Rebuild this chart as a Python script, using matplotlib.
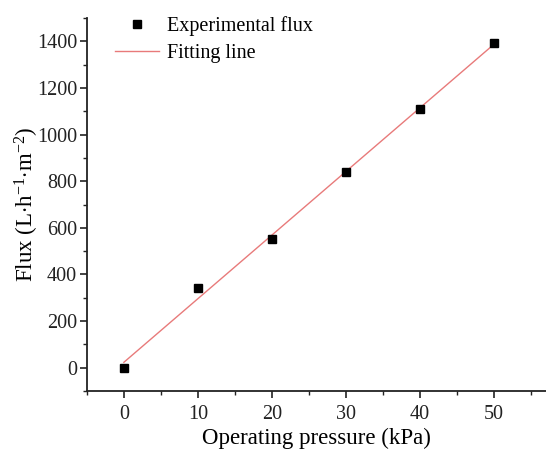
import matplotlib.pyplot as plt
import numpy as np
from matplotlib.ticker import MultipleLocator

# data
pressure = [0, 10, 20, 30, 40, 50]
flux = [0, 340, 553, 839, 1108, 1394]

plt.rcParams['font.family'] = ['Liberation Serif', 'DejaVu Serif']
plt.rcParams['mathtext.fontset'] = 'custom'
plt.rcParams['mathtext.rm'] = 'Liberation Serif'
plt.rcParams['mathtext.it'] = 'Liberation Serif:italic'

fig = plt.figure(figsize=(5.46, 4.53), dpi=100)
ax = fig.add_axes([0.159, 0.137, 0.841, 0.823])

# linear fit
k, b = np.polyfit(pressure, flux, 1)
xfit = np.array([pressure[0], pressure[-1]])
ax.plot(xfit, k * xfit + b, color="#e87a7a", lw=1.0, label="Fitting line", zorder=2)
ax.plot(pressure, flux, ls="none", marker="s", color="black", ms=6, label="Experimental flux", zorder=3)

ax.set_xlim(-5, 57)
ax.set_ylim(-100, 1500)
ax.xaxis.set_major_locator(MultipleLocator(10))
ax.xaxis.set_minor_locator(MultipleLocator(5))
ax.yaxis.set_minor_locator(MultipleLocator(100))
ax.set_yticks(np.arange(0, 1401, 200))

for s in ["top", "right"]:
    ax.spines[s].set_visible(False)
for s in ["left", "bottom"]:
    ax.spines[s].set_linewidth(1.3)
    ax.spines[s].set_color("#222222")
ax.tick_params(which="major", direction="out", length=5, width=1.2, labelsize=14.5,
               colors="#222222", pad=2)
ax.tick_params(axis="x", which="major", pad=5)
ax.tick_params(which="minor", direction="out", length=3, width=1.0, colors="#222222")

ax.set_xlabel("Operating pressure (kPa)", fontsize=16.5, labelpad=3)
ax.set_ylabel(r"Flux (L$\cdot$h$^{\mathrm{-1}}$$\cdot$m$^{\mathrm{-2}}$)", fontsize=16.5, labelpad=-3)

h, l = ax.get_legend_handles_labels()
ax.legend(h[::-1], l[::-1], loc="upper left", bbox_to_anchor=(0.022, 1.055), frameon=False,
          fontsize=14.5, handlelength=2.2, labelspacing=0.4, handletextpad=0.4)

fig.savefig("out.png", dpi=100)
